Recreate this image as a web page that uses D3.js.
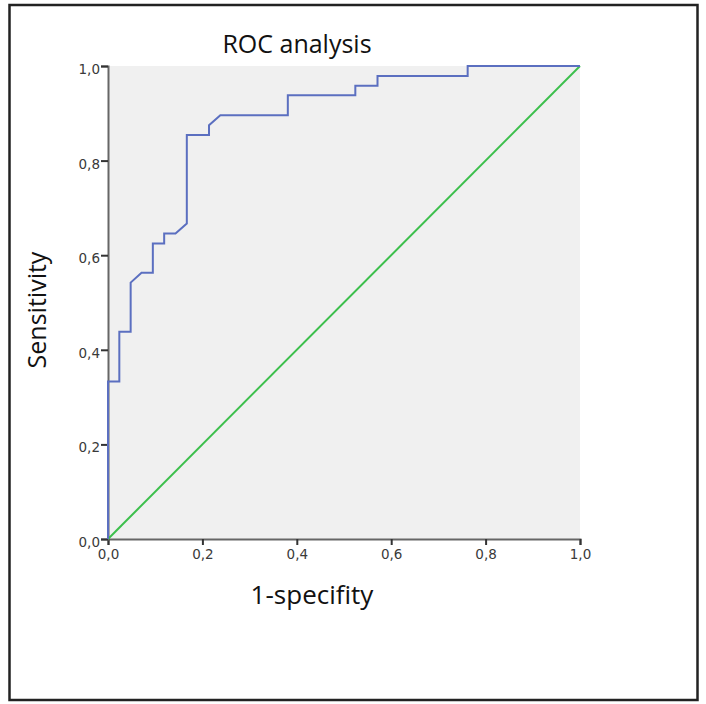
<!DOCTYPE html>
<html><head><meta charset="utf-8">
<script src="https://cdn.jsdelivr.net/npm/d3@7"></script>
<style>body{margin:0;background:#fff;} svg{display:block;}</style>
</head><body>
<svg id="chart" width="706" height="704"></svg>
<script>
const fpr = [0,0,0.024,0.024,0.048,0.048,0.071,0.095,0.095,0.119,0.119,0.143,0.167,0.167,0.214,0.214,0.238,0.381,0.381,0.524,0.524,0.571,0.571,0.762,0.762,1.0];
const sens = [0,0.333,0.333,0.438,0.438,0.542,0.563,0.563,0.625,0.625,0.646,0.646,0.667,0.854,0.854,0.875,0.896,0.896,0.938,0.938,0.958,0.958,0.979,0.979,1.0,1.0];
const refX = [0,1];
const refY = [0,1];
const tickValues = [0,0.2,0.4,0.6,0.8,1.0];
const tickLabels = ["0,0","0,2","0,4","0,6","0,8","1,0"];

const svg = d3.select("#chart");
const font = "'Open Sans', 'Noto Sans', sans-serif";
const tickFont = "'DejaVu Sans', Verdana, sans-serif";

svg.append("rect").attr("x",9.5).attr("y",5).attr("width",688).attr("height",695)
  .attr("fill","#fff").attr("stroke","#222").attr("stroke-width",2.5);

const x = d3.scaleLinear().domain([0,1]).range([108,580]);
const y = d3.scaleLinear().domain([0,1]).range([539,66]);

svg.append("rect").attr("x",x(0)).attr("y",y(1)).attr("width",x(1)-x(0)).attr("height",y(0)-y(1)).attr("fill","#f0f0f0");

const xAxis = svg.append("g").attr("transform",`translate(0,${y(0)})`)
  .call(d3.axisBottom(x).tickValues(tickValues).tickFormat((d,i)=>tickLabels[i]).tickSizeOuter(0).tickSize(6).tickPadding(4));
const yAxis = svg.append("g").attr("transform",`translate(${x(0)},0)`)
  .call(d3.axisLeft(y).tickValues(tickValues).tickFormat((d,i)=>tickLabels[i]).tickSizeOuter(0).tickSize(7).tickPadding(1));
[xAxis,yAxis].forEach(a=>{
  a.select(".domain").attr("stroke","#666").attr("stroke-width",2);
  a.selectAll(".tick line").attr("stroke","#333").attr("stroke-width",2);
  a.selectAll(".tick text").attr("fill","#3a3a3a").style("font-family",tickFont).style("font-size","13.5px");
});
yAxis.selectAll(".tick text").attr("dy","0.55em");

const line = d3.line().x(d=>x(d[0])).y(d=>y(d[1]));
svg.append("path").datum(refX.map((v,i)=>[v,refY[i]])).attr("d",line)
  .attr("fill","none").attr("stroke","#3cbf4c").attr("stroke-width",2);
svg.append("path").datum(fpr.map((v,i)=>[v,sens[i]])).attr("d",line)
  .attr("fill","none").attr("stroke","#5b6fc0").attr("stroke-width",2);

svg.append("text").attr("x",297).attr("y",53).attr("text-anchor","middle")
  .style("font-family",font).style("font-size","25px").attr("fill","#111").text("ROC analysis");
svg.append("text").attr("x",312).attr("y",604).attr("text-anchor","middle")
  .style("font-family",font).style("font-size","26px").attr("fill","#111").text("1-specifity");
svg.append("text").attr("transform","translate(46,310) rotate(-90)").attr("text-anchor","middle")
  .style("font-family",font).style("font-size","25px").attr("fill","#111").text("Sensitivity");
</script>
</body></html>
